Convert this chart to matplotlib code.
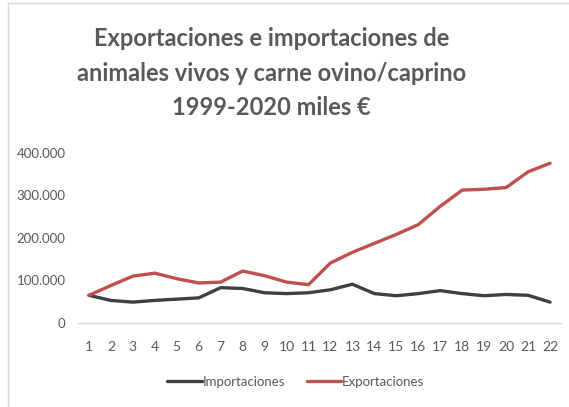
import matplotlib.pyplot as plt
from matplotlib.lines import Line2D
from matplotlib.ticker import FuncFormatter

anios = list(range(1, 23))
importaciones = [65000, 53000, 49000, 53000, 56000, 59000, 83000, 81000, 71000, 69000, 71000,
                 78000, 91000, 69000, 64000, 69000, 76000, 69000, 64000, 67000, 65000, 49000]
exportaciones = [65000, 88000, 110000, 117000, 104000, 94000, 96000, 122000, 111000, 96000, 90000,
                 141000, 166000, 187000, 208000, 231000, 274000, 312000, 314000, 318000, 355000, 375000]

gris = '#595959'
plt.rcParams['font.family'] = ['Lato', 'DejaVu Sans']

fig = plt.figure(figsize=(5.69, 4.07), dpi=100)
ax = fig.add_axes([0.137, 0.2064, 0.849, 0.4186])

ax.plot(anios, importaciones, color='#404040', linewidth=2.4, label='Importaciones',
        solid_capstyle='round', solid_joinstyle='round')
ax.plot(anios, exportaciones, color='#C0504D', linewidth=2.4, label='Exportaciones',
        solid_capstyle='round', solid_joinstyle='round')

ax.set_xlim(0.5, 22.5)
ax.set_ylim(0, 400000)
ax.set_xticks(anios)
ax.set_yticks([0, 100000, 200000, 300000, 400000])
ax.yaxis.set_major_formatter(FuncFormatter(lambda v, p: f'{int(v):,}'.replace(',', '.')))
ax.tick_params(axis='x', length=0, pad=13, labelsize=10, labelcolor=gris)
ax.tick_params(axis='y', length=0, pad=9, labelsize=9.5, labelcolor=gris)
for lado in ['top', 'right', 'left']:
    ax.spines[lado].set_visible(False)
ax.spines['bottom'].set_color('#D9D9D9')
ax.spines['bottom'].set_linewidth(1)

fig.text(0.477, 0.82, 'Exportaciones e importaciones de\nanimales vivos y carne ovino/caprino\n1999-2020 miles €',
         ha='center', va='center', fontsize=17, fontweight='bold', color=gris, linespacing=1.6)

fig.legend(loc='center', bbox_to_anchor=(0.52, 0.062), ncol=2, frameon=False, fontsize=9.5,
           labelcolor=gris, handlelength=2.6, handletextpad=0.1, columnspacing=1.6)

# marco del grafico
x0 = 8 / 569
y1 = 1 - 3 / 407
fig.add_artist(Line2D([x0, x0], [0, y1], transform=fig.transFigure, color='#D9D9D9', linewidth=1))
fig.add_artist(Line2D([x0, 1], [y1, y1], transform=fig.transFigure, color='#D9D9D9', linewidth=1))

fig.savefig('out.png', dpi=100)
